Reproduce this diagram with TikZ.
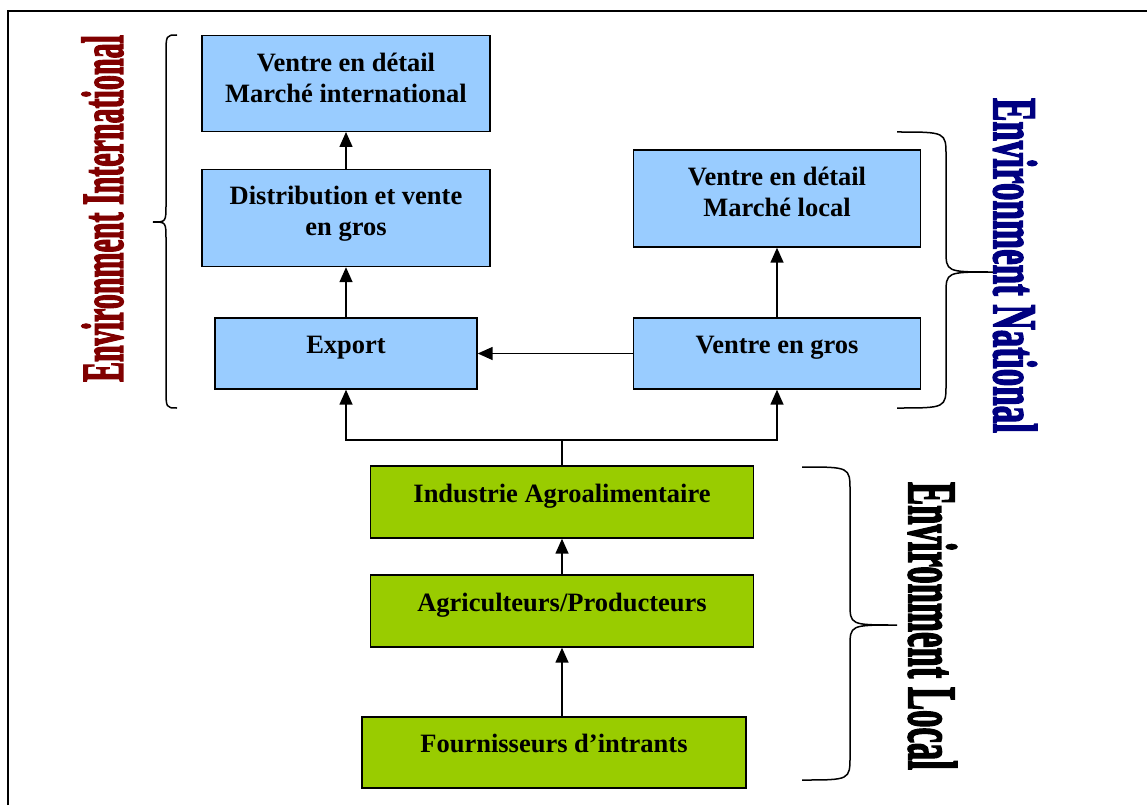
\documentclass[tikz,border=0pt]{standalone}
\usepackage{fontspec}
\setmainfont{Liberation Serif}
\newfontfamily\envfont[FakeBold=3]{Liberation Serif}
\usepackage{graphicx}
\usetikzlibrary{arrows.meta}

\definecolor{boxblue}{HTML}{99CCFF}
\definecolor{boxgreen}{HTML}{99CC00}
\definecolor{intred}{HTML}{800000}
\definecolor{natblue}{HTML}{000080}

% two-line caption, lifted slightly inside its box
\newcommand{\twolines}[3]{\raisebox{#1}[\height][\depth]{\begin{tabular}{@{}c@{}}#2\\#3\end{tabular}}}

\begin{document}
\begin{tikzpicture}[x=1pt,y=-1pt,
  boxfont/.style={font=\fontsize{26.5}{31}\selectfont\bfseries},
  stage/.style={boxfont, draw=black, line width=1.4pt, align=center, inner sep=0pt},
  single/.style={text height=18pt, text depth=18pt},
  blue stage/.style={stage, fill=boxblue},
  green stage/.style={stage, fill=boxgreen},
  link/.style={line width=1.5pt},
  flow/.style={link, -{Triangle[length=15pt,width=13pt]}},
  brace/.style={line width=1.5pt},
  envlabel/.style={inner sep=0pt, font=\fontsize{40}{40}\selectfont\envfont\bfseries}
]
\useasboundingbox (0,0) rectangle (1147,805);

% page frame
\draw[line width=2pt] (8,805) -- (8,11) -- (1147,11);

% international chain
\node[blue stage, minimum width=288pt, minimum height=96pt] (mi) at (346,83.3)
  {\twolines{2.5pt}{Ventre en détail}{Marché international}};
\node[blue stage, minimum width=288pt, minimum height=97pt] (dist) at (346,218)
  {\twolines{4pt}{Distribution et vente}{en gros}};
\node[blue stage, single, minimum width=262pt, minimum height=71pt] (exp) at (346,353.5)
  {Export};

% national chain
\node[blue stage, minimum width=287pt, minimum height=97pt] (ml) at (777,198.5)
  {\twolines{4pt}{Ventre en détail}{Marché local}};
\node[blue stage, single, minimum width=287pt, minimum height=71pt] (vg) at (777,353.5)
  {Ventre en gros};

% local chain
\node[green stage, single, minimum width=383pt, minimum height=72pt] (ind) at (562,502)
  {Industrie Agroalimentaire};
\node[green stage, single, minimum width=383pt, minimum height=72pt] (agr) at (562,611)
  {Agriculteurs/Producteurs};
\node[green stage, single, minimum width=384pt, minimum height=71pt] (four) at (554,752.5)
  {Fournisseurs d’intrants};

% connectors
\coordinate (split) at (562,440);
\draw[flow] (dist.north) -- (mi.south);
\draw[flow] (exp.north) -- (dist.south);
\draw[flow] (vg.north) -- (ml.south);
\draw[flow] (vg.west) -- (exp.east);
\draw[link] (ind.north) -- (split);
\draw[flow] (split) -| (exp.south);
\draw[flow] (split) -| (vg.south);
\draw[flow] (agr.north) -- (ind.south);
\draw[flow] (four.north -| agr.south) -- (agr.south);

% braces
\draw[brace] (177,35) .. controls (166,35) .. (166,55) -- (166,204)
  .. controls (166,222) .. (153,222) .. controls (166,222) .. (166,240)
  -- (166,388) .. controls (166,408) .. (177,408);
\draw[brace] (897,132) .. controls (946,132) .. (946,156) -- (946,250)
  .. controls (946,272) .. (993,272) .. controls (946,272) .. (946,294)
  -- (946,384) .. controls (946,408) .. (897,408);
\draw[brace] (802,467) .. controls (850,467) .. (850,491) -- (850,603)
  .. controls (850,625) .. (897,625) .. controls (850,625) .. (850,647)
  -- (850,756) .. controls (850,780) .. (802,780);

% environment labels
\node[envlabel, rotate=90, text=intred] (intl) at (102.5,208.5)
  {\resizebox{347pt}{41pt}{Environment International}};
\node[envlabel, rotate=-90, text=natblue] (natl) at (1015,265.5)
  {\resizebox{335pt}{43pt}{Environment National}};
\node[envlabel, rotate=-90, text=black] (locl) at (932.5,626)
  {\resizebox{288pt}{48pt}{Environment Local}};
\end{tikzpicture}
\end{document}
